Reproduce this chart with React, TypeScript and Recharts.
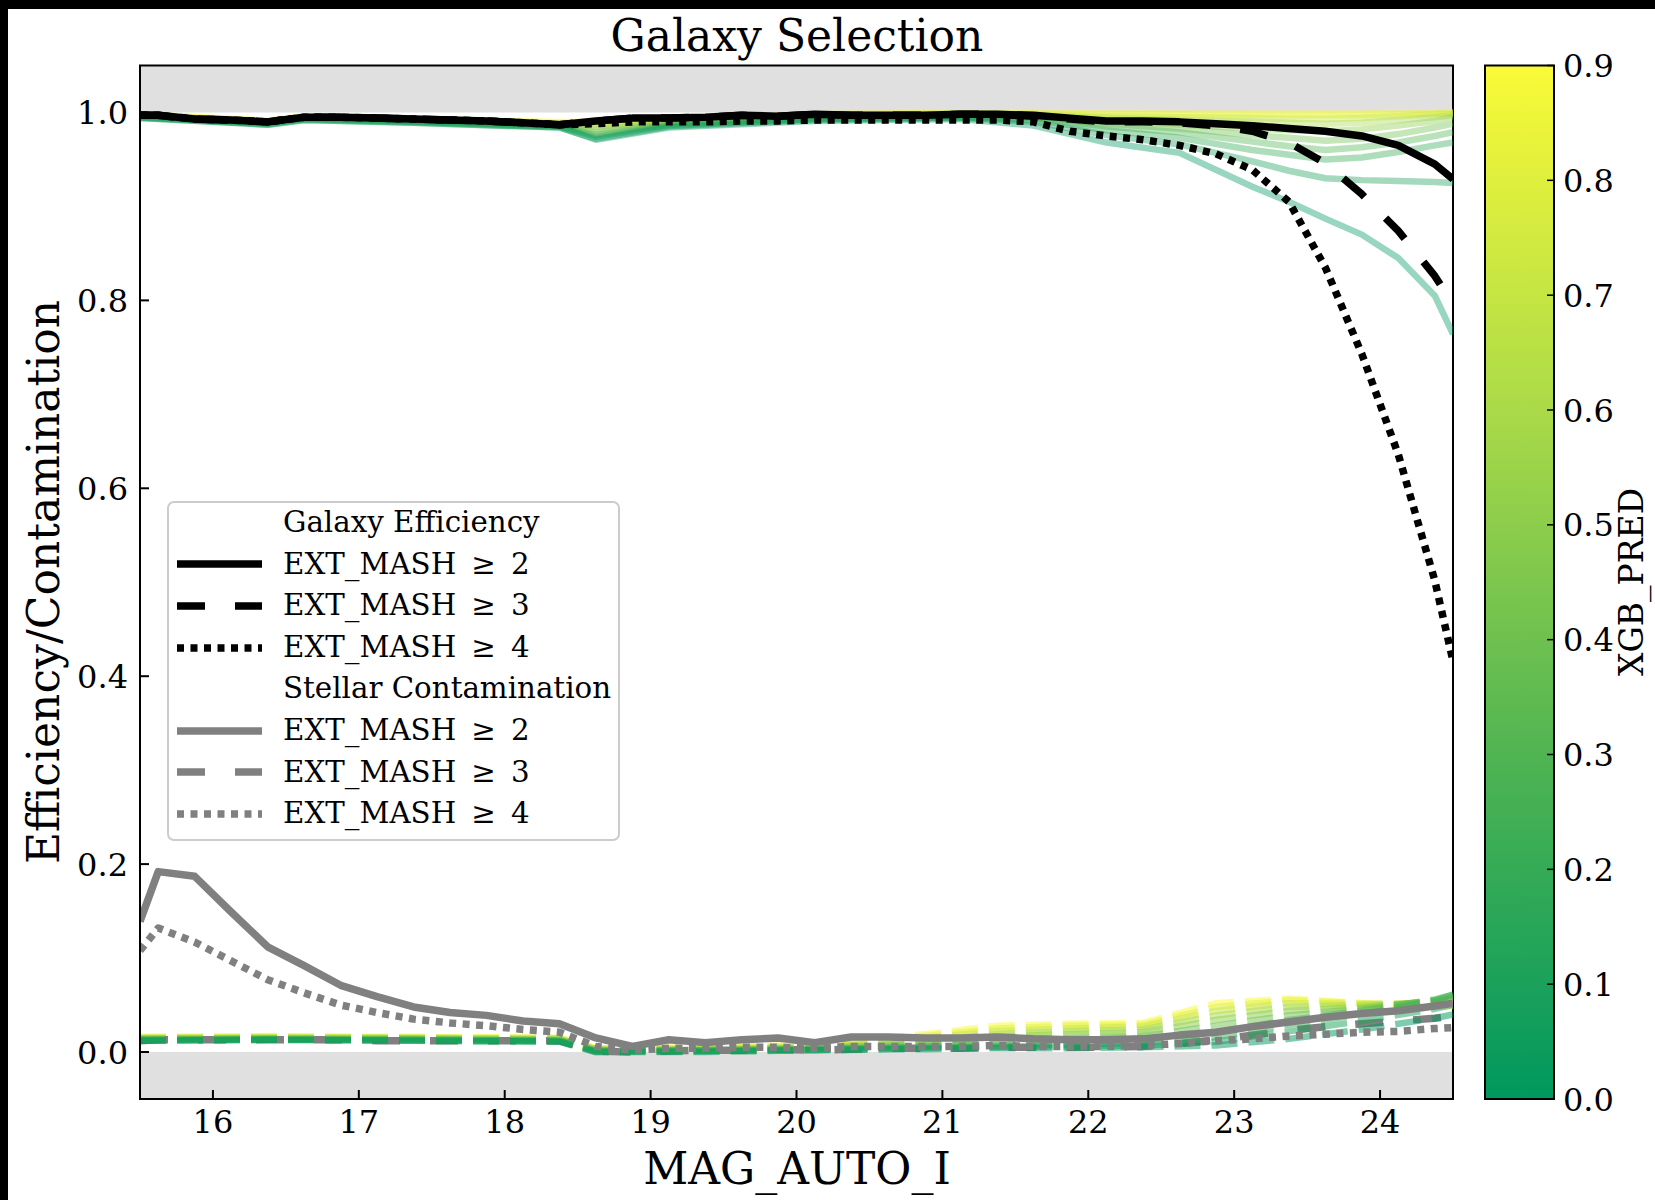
import React from 'react';
import { LineChart, ComposedChart, Line, XAxis, YAxis, ReferenceArea } from 'recharts';

// ---------- data ----------
const MAG = [15.5, 15.625, 15.875, 16.125, 16.375, 16.625, 16.875, 17.125, 17.375, 17.625, 17.875, 18.125, 18.375, 18.625, 18.875, 19.125, 19.375, 19.625, 19.875, 20.125, 20.375, 20.625, 20.875, 21.125, 21.375, 21.625, 21.875, 22.125, 22.375, 22.625, 22.875, 23.125, 23.375, 23.625, 23.875, 24.125, 24.375, 24.5];

const EFF_EXT2 = [0.997, 0.997, 0.993, 0.992, 0.990, 0.995, 0.995, 0.994, 0.993, 0.992, 0.991, 0.989, 0.987, 0.991, 0.994, 0.994, 0.995, 0.997, 0.996, 0.998, 0.997, 0.997, 0.997, 0.998, 0.998, 0.997, 0.994, 0.991, 0.991, 0.990, 0.988, 0.986, 0.983, 0.980, 0.975, 0.965, 0.945, 0.929];
const EFF_EXT3 = [0.997, 0.997, 0.993, 0.992, 0.990, 0.995, 0.995, 0.994, 0.993, 0.992, 0.991, 0.989, 0.987, 0.991, 0.994, 0.994, 0.995, 0.997, 0.996, 0.998, 0.997, 0.997, 0.997, 0.998, 0.998, 0.996, 0.993, 0.990, 0.990, 0.989, 0.986, 0.980, 0.968, 0.946, 0.913, 0.874, 0.826, 0.796];
const EFF_EXT4 = [0.997, 0.997, 0.993, 0.992, 0.990, 0.995, 0.995, 0.994, 0.993, 0.992, 0.991, 0.989, 0.987, 0.988, 0.990, 0.990, 0.990, 0.991, 0.991, 0.992, 0.992, 0.992, 0.992, 0.992, 0.992, 0.990, 0.980, 0.975, 0.971, 0.965, 0.956, 0.939, 0.905, 0.835, 0.743, 0.636, 0.502, 0.416];

const CONT_EXT2 = [0.139, 0.192, 0.187, 0.149, 0.112, 0.092, 0.071, 0.059, 0.048, 0.042, 0.039, 0.033, 0.030, 0.015, 0.006, 0.013, 0.010, 0.013, 0.015, 0.010, 0.016, 0.016, 0.015, 0.015, 0.016, 0.014, 0.013, 0.013, 0.014, 0.018, 0.021, 0.027, 0.032, 0.037, 0.041, 0.044, 0.049, 0.052];
const CONT_EXT3 = [0.012, 0.013, 0.013, 0.013, 0.013, 0.013, 0.013, 0.012, 0.012, 0.012, 0.012, 0.012, 0.012, 0.001, 0.000, 0.001, 0.002, 0.002, 0.003, 0.002, 0.003, 0.004, 0.004, 0.004, 0.005, 0.005, 0.005, 0.005, 0.006, 0.009, 0.013, 0.018, 0.023, 0.027, 0.030, 0.033, 0.036, 0.038];
const CONT_EXT4 = [0.108, 0.132, 0.117, 0.097, 0.077, 0.063, 0.050, 0.042, 0.035, 0.031, 0.028, 0.024, 0.021, 0.006, 0.002, 0.004, 0.004, 0.005, 0.005, 0.004, 0.006, 0.006, 0.006, 0.006, 0.007, 0.006, 0.006, 0.006, 0.007, 0.009, 0.012, 0.014, 0.017, 0.019, 0.021, 0.022, 0.025, 0.026];

// XGB_PRED threshold curves (drawn from high to low threshold)
const XGB_LEVELS = [0.9, 0.8, 0.7, 0.6, 0.5, 0.4, 0.3, 0.2, 0.1, 0.0];

const FAN_MAG_EFF = [15.5, 16.375, 16.625, 17.375, 18.375, 18.625, 19.125, 20.125, 21.125, 21.625, 22.125, 22.625, 23.125, 23.375, 23.625, 23.875, 24.125, 24.375, 24.5];
const EFF_XGB_9 = [0.998, 0.991, 0.996, 0.993, 0.990, 0.990, 0.993, 0.998, 1.000, 1.000, 1.000, 0.999, 0.999, 0.999, 0.999, 0.999, 1.000, 1.000, 1.000];
const EFF_XGB_8 = [0.998, 0.991, 0.996, 0.993, 0.989, 0.989, 0.992, 0.998, 0.999, 0.999, 0.998, 0.998, 0.997, 0.997, 0.997, 0.997, 0.998, 0.999, 1.000];
const EFF_XGB_7 = [0.997, 0.990, 0.995, 0.992, 0.988, 0.987, 0.991, 0.997, 0.999, 0.998, 0.996, 0.995, 0.994, 0.993, 0.993, 0.994, 0.996, 0.998, 0.999];
const EFF_XGB_6 = [0.997, 0.990, 0.995, 0.992, 0.987, 0.985, 0.990, 0.996, 0.998, 0.997, 0.994, 0.992, 0.990, 0.989, 0.988, 0.989, 0.992, 0.995, 0.997];
const EFF_XGB_5 = [0.996, 0.989, 0.994, 0.991, 0.986, 0.982, 0.989, 0.995, 0.997, 0.996, 0.991, 0.987, 0.983, 0.981, 0.980, 0.982, 0.986, 0.991, 0.995];
const EFF_XGB_4 = [0.996, 0.989, 0.994, 0.991, 0.986, 0.979, 0.988, 0.994, 0.996, 0.995, 0.988, 0.983, 0.976, 0.973, 0.970, 0.972, 0.977, 0.984, 0.988];
const EFF_XGB_3 = [0.995, 0.988, 0.993, 0.990, 0.985, 0.976, 0.987, 0.993, 0.995, 0.994, 0.985, 0.979, 0.969, 0.964, 0.960, 0.963, 0.968, 0.975, 0.979];
const EFF_XGB_2 = [0.995, 0.988, 0.993, 0.990, 0.985, 0.974, 0.986, 0.993, 0.995, 0.992, 0.981, 0.973, 0.960, 0.955, 0.950, 0.952, 0.958, 0.965, 0.968];
const EFF_XGB_1 = [0.994, 0.987, 0.992, 0.989, 0.984, 0.972, 0.985, 0.992, 0.994, 0.990, 0.976, 0.966, 0.948, 0.938, 0.930, 0.928, 0.927, 0.926, 0.925];
const EFF_XGB_0 = [0.994, 0.987, 0.992, 0.989, 0.984, 0.971, 0.984, 0.991, 0.993, 0.986, 0.968, 0.957, 0.921, 0.905, 0.887, 0.870, 0.845, 0.805, 0.764];
const EFF_FANS = [EFF_XGB_9, EFF_XGB_8, EFF_XGB_7, EFF_XGB_6, EFF_XGB_5, EFF_XGB_4, EFF_XGB_3, EFF_XGB_2, EFF_XGB_1, EFF_XGB_0];

const FAN_MAG_CONT = [15.5, 16.375, 17.375, 18.375, 18.625, 19.375, 20.125, 20.875, 21.375, 21.875, 22.375, 22.875, 23.375, 23.875, 24.375, 24.5];
const CONT_XGB_9 = [0.016, 0.017, 0.016, 0.015, 0.004, 0.005, 0.008, 0.019, 0.028, 0.030, 0.031, 0.052, 0.057, 0.052, 0.048, 0.049];
const CONT_XGB_8 = [0.016, 0.016, 0.016, 0.015, 0.004, 0.004, 0.007, 0.017, 0.025, 0.028, 0.029, 0.048, 0.055, 0.052, 0.050, 0.051];
const CONT_XGB_7 = [0.015, 0.016, 0.015, 0.014, 0.003, 0.004, 0.006, 0.015, 0.022, 0.025, 0.027, 0.044, 0.052, 0.051, 0.052, 0.053];
const CONT_XGB_6 = [0.015, 0.015, 0.015, 0.014, 0.003, 0.003, 0.005, 0.012, 0.019, 0.022, 0.024, 0.039, 0.048, 0.050, 0.053, 0.055];
const CONT_XGB_5 = [0.014, 0.015, 0.014, 0.013, 0.002, 0.003, 0.004, 0.010, 0.016, 0.019, 0.021, 0.034, 0.044, 0.048, 0.054, 0.057];
const CONT_XGB_4 = [0.014, 0.014, 0.014, 0.013, 0.002, 0.002, 0.004, 0.008, 0.012, 0.015, 0.017, 0.028, 0.039, 0.046, 0.055, 0.059];
const CONT_XGB_3 = [0.013, 0.014, 0.013, 0.012, 0.001, 0.002, 0.003, 0.006, 0.009, 0.011, 0.013, 0.021, 0.034, 0.044, 0.056, 0.061];
const CONT_XGB_2 = [0.013, 0.013, 0.013, 0.012, 0.001, 0.001, 0.003, 0.005, 0.006, 0.008, 0.010, 0.016, 0.029, 0.040, 0.055, 0.061];
const CONT_XGB_1 = [0.012, 0.013, 0.012, 0.011, 0.000, 0.001, 0.002, 0.004, 0.005, 0.006, 0.007, 0.011, 0.022, 0.033, 0.046, 0.050];
const CONT_XGB_0 = [0.012, 0.013, 0.012, 0.011, 0.000, 0.000, 0.002, 0.003, 0.004, 0.004, 0.005, 0.007, 0.014, 0.024, 0.036, 0.040];
const CONT_FANS = [CONT_XGB_9, CONT_XGB_8, CONT_XGB_7, CONT_XGB_6, CONT_XGB_5, CONT_XGB_4, CONT_XGB_3, CONT_XGB_2, CONT_XGB_1, CONT_XGB_0];

// ticks and labels
const X_TICKS = [16, 17, 18, 19, 20, 21, 22, 23, 24];
const Y_TICKS = [0, 0.2, 0.4, 0.6, 0.8, 1.0];
const CB_TICKS = [0, 0.1, 0.2, 0.3, 0.4, 0.5, 0.6, 0.7, 0.8, 0.9];
const TITLE = 'Galaxy Selection';
const X_LABEL = 'MAG_AUTO_I';
const Y_LABEL = 'Efficiency/Contamination';
const CB_LABEL = 'XGB_PRED';
const LEGEND_HEADERS = ['Galaxy Efficiency', 'Stellar Contamination'];
const LEGEND_LABELS = ['EXT_MASH \u2009\u2265 \u20092', 'EXT_MASH \u2009\u2265 \u20093', 'EXT_MASH \u2009\u2265 \u20094'];

// ---------- styles ----------
const FONT = "'DejaVu Serif', serif";
const CMAP_POS = [0, 0.3, 0.6, 0.9];
const CMAP_RGB = [[0, 152, 94], [80, 180, 82], [170, 218, 72], [250, 250, 55]];
const LW_MAIN = 7.5;
const LW_FAN = 6.5;
const DASH = '28 30';
const DOT = '7 6.5';
const FAN_DASH = '26 11';
const BAND = '#e0e0e0';
const GREY = '#808080';

function cmap(v: number): string {
  let i = 0;
  while (i < CMAP_POS.length - 2 && v > CMAP_POS[i + 1]) i++;
  const f = Math.max(0, Math.min(1, (v - CMAP_POS[i]) / (CMAP_POS[i + 1] - CMAP_POS[i])));
  const c = CMAP_RGB[i].map((a, k) => Math.round(a + (CMAP_RGB[i + 1][k] - a) * f));
  return `rgb(${c[0]},${c[1]},${c[2]})`;
}

const series = (xs: number[], ys: number[]) => xs.map((x, i) => ({ x, y: ys[i] }));

const LeftTick = (p: any) => {
  const ax = p.x + 12;
  return (
    <g>
      <line x1={ax} x2={ax + 9} y1={p.y} y2={p.y} stroke="#000" strokeWidth={2} />
      <text x={p.x} y={p.y} dy="0.36em" textAnchor="end" fontSize={32} fontFamily={FONT} fill="#000">
        {Number(p.payload.value).toFixed(1)}
      </text>
    </g>
  );
};

const BottomTick = (p: any) => {
  const ay = p.y - 11;
  return (
    <g>
      <line x1={p.x} x2={p.x} y1={ay} y2={ay - 9} stroke="#000" strokeWidth={2} />
      <text x={p.x} y={p.y} dy="0.73em" textAnchor="middle" fontSize={32} fontFamily={FONT} fill="#000">
        {String(p.payload.value)}
      </text>
    </g>
  );
};

const RightTick = (p: any) => {
  const ax = p.x - 9;
  return (
    <g>
      <line x1={ax - 7} x2={ax} y1={p.y} y2={p.y} stroke="#000" strokeWidth={1.5} />
      <text x={p.x} y={p.y} dy="0.36em" textAnchor="start" fontSize={32} fontFamily={FONT} fill="#000">
        {Number(p.payload.value).toFixed(1)}
      </text>
    </g>
  );
};

const ColorbarShape = (p: any) => (
  <g>
    <defs>
      <linearGradient id="cbGrad" x1="0" y1="1" x2="0" y2="0">
        {CB_TICKS.map((v) => (
          <stop key={v} offset={`${(v / CB_TICKS[CB_TICKS.length - 1]) * 100}%`} stopColor={cmap(v)} />
        ))}
      </linearGradient>
    </defs>
    <rect x={p.x} y={p.y} width={p.width} height={p.height} fill="url(#cbGrad)" stroke="#000" strokeWidth={2} />
  </g>
);

const LegendHandle = ({ color, dash }: { color: string; dash?: string }) => (
  <svg width={85} height={16} style={{ display: 'block' }}>
    <line x1={0} x2={85} y1={8} y2={8} stroke={color} strokeWidth={LW_MAIN} strokeDasharray={dash} />
  </svg>
);

const LegendBox = () => {
  const rows: { text: string; color?: string; dash?: string }[] = [
    { text: LEGEND_HEADERS[0] },
    { text: LEGEND_LABELS[0], color: '#000' },
    { text: LEGEND_LABELS[1], color: '#000', dash: DASH },
    { text: LEGEND_LABELS[2], color: '#000', dash: DOT },
    { text: LEGEND_HEADERS[1] },
    { text: LEGEND_LABELS[0], color: GREY },
    { text: LEGEND_LABELS[1], color: GREY, dash: DASH },
    { text: LEGEND_LABELS[2], color: GREY, dash: DOT },
  ];
  return (
    <div
      style={{
        position: 'absolute', left: 167, top: 501, width: 453, height: 340, boxSizing: 'border-box',
        border: '2px solid #cccccc', borderRadius: 7, background: 'rgba(255,255,255,0.8)',
        fontFamily: FONT, fontSize: 29.3, color: '#000',
      }}
    >
      {rows.map((r, i) => (
        <div
          key={i}
          style={{
            position: 'absolute', left: 0, top: -1 + 41.6 * i, height: 41.6, display: 'flex',
            alignItems: 'center', whiteSpace: 'pre',
          }}
        >
          <div style={{ width: 85, marginLeft: 8 }}>{r.color ? <LegendHandle color={r.color} dash={r.dash} /> : null}</div>
          <div style={{ marginLeft: 21, lineHeight: '41.6px' }}>{r.text}</div>
        </div>
      ))}
    </div>
  );
};

export default function App() {
  return (
    <div style={{ position: 'absolute', left: 0, top: 0, width: 1655, height: 1200, background: '#000', overflow: 'hidden' }}>
      <div style={{ position: 'absolute', left: 8, top: 9, width: 1647, height: 1191, background: '#fff' }} />
      <div style={{ position: 'absolute', left: 0, top: 0 }}>
        <LineChart width={1470} height={1200} margin={{ top: 65.5, right: 17, bottom: 41, left: 80 }}>
          <XAxis
            type="number" dataKey="x" domain={[15.5, 24.5]} ticks={X_TICKS} interval={0} allowDataOverflow
            height={60} tickSize={0} tickMargin={11} tickLine={false}
            axisLine={{ stroke: '#000', strokeWidth: 2 }} tick={(p: any) => <BottomTick {...p} />}
          />
          <YAxis
            type="number" domain={[-0.05, 1.05]} ticks={Y_TICKS} interval={0} allowDataOverflow
            width={60} tickSize={0} tickMargin={12} tickLine={false}
            axisLine={{ stroke: '#000', strokeWidth: 2 }} tick={(p: any) => <LeftTick {...p} />}
          />
          <ReferenceArea x1={15.5} x2={24.5} y1={1.0} y2={1.05} fill={BAND} fillOpacity={1} stroke="none" />
          <ReferenceArea x1={15.5} x2={24.5} y1={-0.05} y2={0} fill={BAND} fillOpacity={1} stroke="none" />

          <Line data={series(MAG, CONT_EXT3)} dataKey="y" type="linear" stroke={GREY} strokeWidth={LW_MAIN} strokeDasharray={DASH} dot={false} activeDot={false} isAnimationActive={false} strokeLinejoin="round" />

          {CONT_FANS.map((ys, i) => (
            <Line
              key={`c${i}`} data={series(FAN_MAG_CONT, ys)} dataKey="y" type="linear"
              stroke={cmap(XGB_LEVELS[i])} strokeOpacity={0.5} strokeWidth={LW_FAN} strokeDasharray={FAN_DASH}
              dot={false} activeDot={false} isAnimationActive={false} legendType="none" strokeLinejoin="round"
            />
          ))}
          {EFF_FANS.map((ys, i) => (
            <Line
              key={`e${i}`} data={series(FAN_MAG_EFF, ys)} dataKey="y" type="linear"
              stroke={cmap(XGB_LEVELS[i])} strokeOpacity={0.4} strokeWidth={LW_FAN}
              dot={false} activeDot={false} isAnimationActive={false} legendType="none" strokeLinejoin="round"
            />
          ))}

          <Line data={series(MAG, CONT_EXT2)} dataKey="y" type="linear" stroke={GREY} strokeWidth={LW_MAIN} dot={false} activeDot={false} isAnimationActive={false} strokeLinejoin="round" />
          <Line data={series(MAG, CONT_EXT4)} dataKey="y" type="linear" stroke={GREY} strokeWidth={LW_MAIN} strokeDasharray={DOT} dot={false} activeDot={false} isAnimationActive={false} strokeLinejoin="round" />

          <Line data={series(MAG, EFF_EXT2)} dataKey="y" type="linear" stroke="#000" strokeWidth={LW_MAIN} dot={false} activeDot={false} isAnimationActive={false} strokeLinejoin="round" />
          <Line data={series(MAG, EFF_EXT3)} dataKey="y" type="linear" stroke="#000" strokeWidth={LW_MAIN} strokeDasharray={DASH} dot={false} activeDot={false} isAnimationActive={false} strokeLinejoin="round" />
          <Line data={series(MAG, EFF_EXT4)} dataKey="y" type="linear" stroke="#000" strokeWidth={LW_MAIN} strokeDasharray={DOT} dot={false} activeDot={false} isAnimationActive={false} strokeLinejoin="round" />

          <ReferenceArea x1={15.5} x2={24.5} y1={-0.05} y2={1.05} fill="none" stroke="#000" strokeWidth={2} />
        </LineChart>
      </div>

      <div style={{ position: 'absolute', left: 1400, top: 0 }}>
        <ComposedChart
          width={255} height={1200} margin={{ top: 65.5, right: 21, bottom: 101, left: 85 }}
          data={CB_TICKS.map((v) => ({ x: 0.5, v }))}
        >
          <XAxis type="number" dataKey="x" domain={[0, 1]} hide />
          <YAxis
            type="number" orientation="right" domain={[0, 0.9]} ticks={CB_TICKS} interval={0} allowDataOverflow
            width={80} tickSize={0} tickMargin={9} tickLine={false} axisLine={false}
            tick={(p: any) => <RightTick {...p} />}
          />
          <ReferenceArea x1={0} x2={1} y1={CB_TICKS[0]} y2={CB_TICKS[CB_TICKS.length - 1]} shape={(p: any) => <ColorbarShape {...p} />} />
          <Line dataKey="v" stroke="none" dot={false} activeDot={false} isAnimationActive={false} legendType="none" />
        </ComposedChart>
      </div>

      <svg width={1655} height={1200} style={{ position: 'absolute', left: 0, top: 0, pointerEvents: 'none' }}>
        <text x={797} y={51} textAnchor="middle" fontSize={44} fontFamily={FONT} fill="#000">{TITLE}</text>
        <text x={797} y={1184} textAnchor="middle" fontSize={44} fontFamily={FONT} fill="#000">{X_LABEL}</text>
        <text x={59} y={582} textAnchor="middle" fontSize={44} fontFamily={FONT} fill="#000" transform="rotate(-90 59 582)">{Y_LABEL}</text>
        <text x={1643} y={582} textAnchor="middle" fontSize={33} fontFamily={FONT} fill="#000" transform="rotate(-90 1643 582)">{CB_LABEL}</text>
      </svg>

      <LegendBox />
    </div>
  );
}
